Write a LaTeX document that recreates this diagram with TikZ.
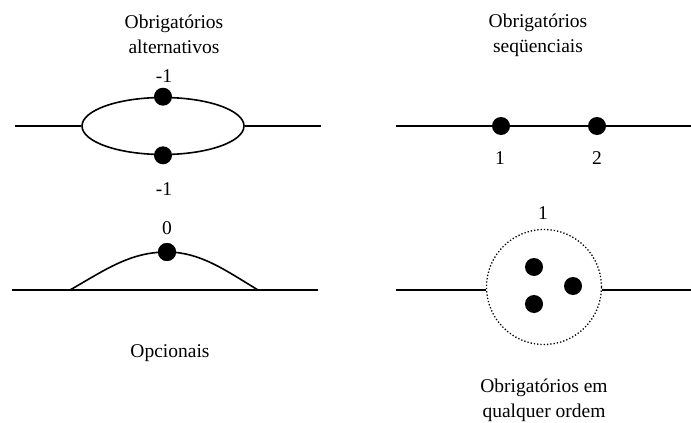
\documentclass[tikz,border=0pt]{standalone}
\usepackage{fontspec}
\setmainfont{Liberation Serif}
\usetikzlibrary{shapes.geometric}
\begin{document}
\begin{tikzpicture}[x=1pt,y=-1pt,
  wire/.style={line width=1.8pt},
  dotnode/.style={circle,fill=black,draw=none,minimum size=18pt,inner sep=0pt},
  lbl/.style={font=\fontsize{19.5}{25}\selectfont,inner sep=0pt,align=center}]
\useasboundingbox (0,0) rectangle (691,423);
% --- top left: alternativos
\node[lbl] (t1) at (174,34) {Obrigatórios\\alternativos};
\node[draw,ellipse,line width=1.6pt,minimum width=162pt,minimum height=57pt,inner sep=0pt] (ell) at (163,126) {};
\coordinate (a1) at (15,126);
\coordinate (a2) at (321,126);
\draw[wire] (a1) -- (ell.west);
\draw[wire] (ell.east) -- (a2);
\node[dotnode] (d1) at (ell.north) {};
\node[dotnode] (d2) at (ell.south) {};
\node[lbl] (m1) at (164,76) {-1};
\node[lbl] (m2) at (164,189) {-1};
% --- top right: sequenciais
\node[lbl] (t2) at (538,35) {Obrigatórios\\seqüenciais};
\coordinate (b1) at (396,126);
\coordinate (b2) at (691,126);
\node[dotnode] (s1) at (501,126) {};
\node[dotnode] (s2) at (597,126) {};
\draw[wire] (b1) -- (s1) -- (s2) -- (b2);
\node[lbl] (n1) at (500,158) {1};
\node[lbl] (n2) at (597,158) {2};
% --- bottom left: opcionais
\coordinate (c1) at (12,290);
\coordinate (c2) at (318,290);
\coordinate (c3) at (70,290);
\coordinate (c4) at (258,290);
\draw[wire] (c1) -- (c2);
\node[dotnode] (o1) at (167,252) {};
\draw[line width=1.6pt] (c3) .. controls (105,270) and (130,252) .. (o1.center) .. controls (200,252) and (225,270) .. (c4);
\node[dotnode] at (o1) {};
\node[lbl] (z0) at (167,228) {0};
\node[lbl] (op) at (170,353) {Opcionais};
% --- bottom right: qualquer ordem
\node[draw,circle,dotted,line width=1.3pt,minimum size=115pt,inner sep=0pt] (circ) at (544,287) {};
\coordinate (e1) at (396,290);
\coordinate (e2) at (691,290);
\draw[wire] (e1) -- (circ.west |- e1);
\draw[wire] (circ.east |- e2) -- (e2);
\node[dotnode] (q1) at (534,267) {};
\node[dotnode] (q2) at (573,286) {};
\node[dotnode] (q3) at (534,304) {};
\node[lbl] (u1) at (543,213) {1};
\node[lbl] (t3) at (544,400) {Obrigatórios em\\qualquer ordem};
\end{tikzpicture}
\end{document}
